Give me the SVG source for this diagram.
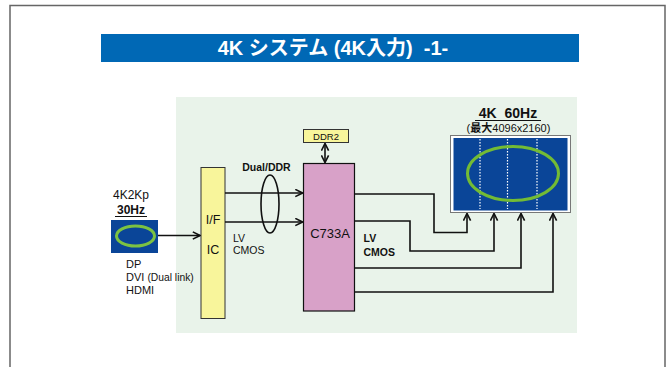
<svg xmlns="http://www.w3.org/2000/svg" width="668" height="367" viewBox="0 0 668 367">
<defs>
<style>
text{font-family:"Liberation Sans","Noto Sans CJK JP",Arial,sans-serif;fill:#111;white-space:pre}
.b{font-weight:bold}
.w{fill:#fff}
.ln{fill:none;stroke:#111;stroke-width:1.6}
</style>
<marker id="ah" viewBox="0 0 10 10" refX="9" refY="5" markerWidth="9" markerHeight="9" markerUnits="userSpaceOnUse" orient="auto-start-reverse">
<path d="M1,1 L9,5 L1,9" fill="none" stroke="#111" stroke-width="1.8"/>
</marker>
</defs>
<rect width="668" height="367" fill="#fff"/>
<path d="M10,370 V5.5 H665 V370" fill="none" stroke="#666" stroke-width="1.5"/>
<g id="title">
<rect x="101" y="34" width="478" height="28" fill="#0068B5"/>
<text x="333" y="55" text-anchor="middle" class="b w" font-size="20" xml:space="preserve">4K システム (4K入力)  -1-</text>
</g>
<rect id="bg" x="176" y="97" width="401" height="236" fill="#E9F3EA"/>

<g id="input">
<text x="131" y="199" text-anchor="middle" font-size="12">4K2Kp</text>
<text x="131" y="214" text-anchor="middle" class="b" font-size="12">30Hz</text>
<line x1="115" y1="216.5" x2="147" y2="216.5" stroke="#111" stroke-width="1"/>
<rect x="111" y="220" width="47" height="33" fill="#0A4598"/>
<ellipse cx="135.5" cy="236" rx="19" ry="10" fill="none" stroke="#7CC242" stroke-width="3"/>
<text x="126" y="268" font-size="11">DP</text>
<text x="126" y="281" font-size="11">DVI <tspan font-size="10.3">(Dual link)</tspan></text>
<text x="126" y="294" font-size="11">HDMI</text>
</g>

<g id="ific">
<rect x="201" y="167.5" width="24" height="151" fill="#F8F59B" stroke="#333" stroke-width="1"/>
<text x="213" y="224" text-anchor="middle" font-size="12.5">I/F</text>
<text x="213" y="254" text-anchor="middle" font-size="12.5">IC</text>
</g>

<g id="ddr2">
<rect x="303.5" y="129.5" width="45" height="13" fill="#F8F59B" stroke="#333" stroke-width="1"/>
<text x="326" y="140" text-anchor="middle" font-size="9.5">DDR2</text>
</g>

<g id="c733a">
<rect x="303.5" y="163.5" width="51" height="147.5" fill="#D8A1C8" stroke="#111" stroke-width="1.2"/>
<text x="330" y="237.5" text-anchor="middle" font-size="13">C733A</text>
</g>

<g id="monitor">
<text x="508" y="118" text-anchor="middle" class="b" font-size="14" xml:space="preserve">4K  60Hz</text>
<line x1="475" y1="120.5" x2="541" y2="120.5" stroke="#111" stroke-width="1.2"/>
<text x="508.5" y="132" text-anchor="middle" font-size="11">(<tspan class="b">最大</tspan>4096x2160)</text>
<rect x="450.5" y="135.5" width="120" height="77" fill="#fff" stroke="#777" stroke-width="1"/>
<rect x="453.5" y="138" width="114" height="72.5" fill="#0A4598"/>
<g stroke="#fff" stroke-width="1.2" stroke-dasharray="1.5,1.5">
<line x1="480" y1="139" x2="480" y2="209"/>
<line x1="507.5" y1="139" x2="507.5" y2="209"/>
<line x1="537" y1="139" x2="537" y2="209"/>
</g>
<ellipse cx="513" cy="173.5" rx="45.5" ry="27" fill="none" stroke="#73BB35" stroke-width="3"/>
</g>

<g id="labels">
<text x="266.5" y="170.5" text-anchor="middle" class="b" font-size="10.5">Dual/DDR</text>
<text x="233" y="241.5" font-size="10.5">LV</text>
<text x="233" y="254" font-size="10.5">CMOS</text>
<text x="363.5" y="242" class="b" font-size="10.5">LV</text>
<text x="363.5" y="256" class="b" font-size="10.5">CMOS</text>
</g>

<g id="connectors">
<line class="ln" x1="158" y1="235.5" x2="200" y2="235.5" marker-end="url(#ah)"/>
<line class="ln" x1="225" y1="193" x2="302.5" y2="193" marker-end="url(#ah)"/>
<line class="ln" x1="225" y1="222" x2="302.5" y2="222" marker-end="url(#ah)"/>
<ellipse cx="270" cy="204" rx="9" ry="29" fill="none" stroke="#111" stroke-width="1.6"/>
<line class="ln" x1="325" y1="143.5" x2="325" y2="162.5" marker-start="url(#ah)" marker-end="url(#ah)"/>
<polyline class="ln" points="354.5,194 434,194 434,232.5 467,232.5 467,213.5" marker-end="url(#ah)"/>
<polyline class="ln" points="354.5,221 410,221 410,251 494,251 494,213.5" marker-end="url(#ah)"/>
<polyline class="ln" points="354.5,268 521,268 521,213.5" marker-end="url(#ah)"/>
<polyline class="ln" points="354.5,292 553,292 553,213.5" marker-end="url(#ah)"/>
</g>
</svg>
